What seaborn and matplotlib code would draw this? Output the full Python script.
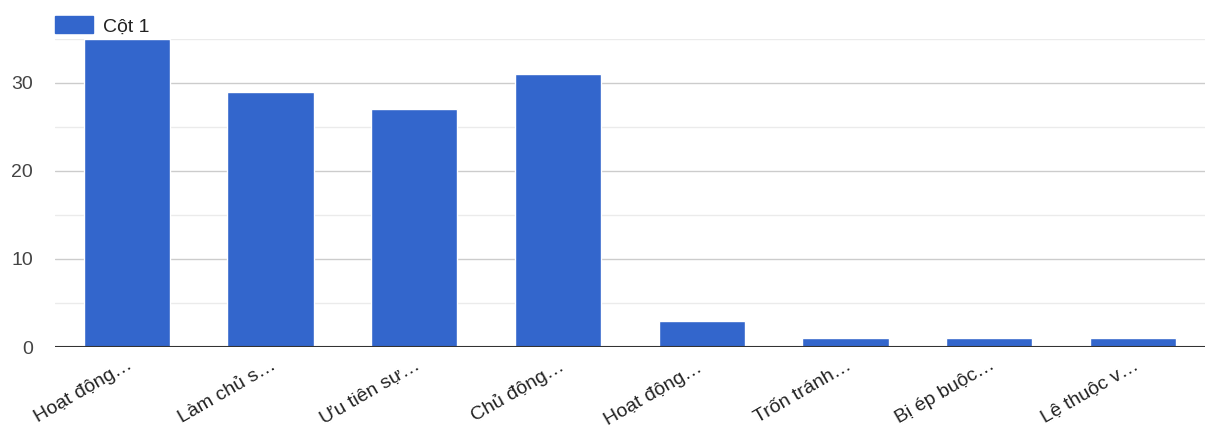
import matplotlib
matplotlib.use("Agg")
import matplotlib.pyplot as plt
import seaborn as sns
import pandas as pd
from matplotlib.patches import Patch

categories = ["Hoạt động…", "Làm chủ s…", "Ưu tiên sự…", "Chủ động…",
              "Hoạt động… ", "Trốn tránh…", "Bị ép buộc…", "Lệ thuộc v…"]
values = [35, 29, 27, 31, 3, 1, 1, 1]
series_name = "Cột 1"
y_major = [0, 10, 20, 30]
y_minor = [5, 15, 25, 35]

sns.set_theme(style="white")
plt.rcParams["font.family"] = ["Liberation Sans", "DejaVu Sans"]

df = pd.DataFrame({"label": categories, "value": values})

fig = plt.figure(figsize=(12.11, 4.33), dpi=100)
ax = fig.add_axes([0.0454, 0.1986, 0.9496, 0.7114])

bar_color = "#3366cc"
sns.barplot(data=df, x="label", y="value", color=bar_color, saturation=1,
            width=0.6, ax=ax, zorder=3)

ax.set_ylim(0, 35)
ax.set_xlim(-0.5, len(categories) - 0.5)
for y in y_minor:
    ax.axhline(y, color="#ebebeb", lw=1, zorder=1)
for y in y_major[1:]:
    ax.axhline(y, color="#cccccc", lw=1, zorder=1)
ax.axhline(0, color="#333333", lw=1.5, zorder=4)

ax.set_yticks(y_major)
ax.set_yticklabels([str(v) for v in y_major], fontsize=14, color="#444444")
ax.tick_params(axis="y", length=0, pad=16)
ax.tick_params(axis="x", length=0, pad=7)
ax.set_xticks(range(len(categories)))
ax.set_xticklabels(categories, rotation=30, ha="right", rotation_mode="anchor",
                   fontsize=14, color="#222222")
ax.set_xlabel("")
ax.set_ylabel("")
for s in ax.spines.values():
    s.set_visible(False)

leg = fig.legend(handles=[Patch(facecolor=bar_color, edgecolor=bar_color)],
                 labels=[series_name], loc="upper left",
                 bbox_to_anchor=(0.0454, 0.962), frameon=False,
                 fontsize=14, handlelength=1.95, handleheight=0.95,
                 handletextpad=0.5, borderaxespad=0, borderpad=0)
for t in leg.get_texts():
    t.set_color("#222222")

fig.savefig("out.png", dpi=100)
